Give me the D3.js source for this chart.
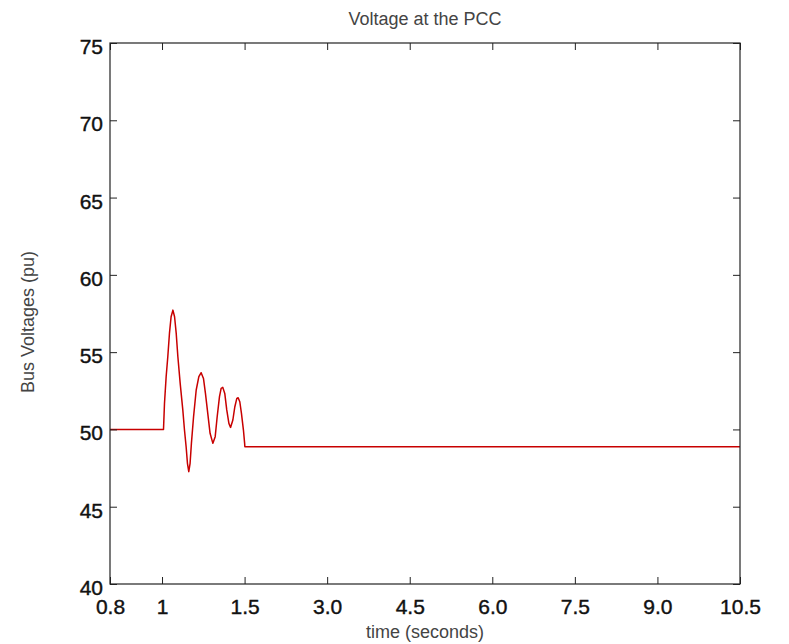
<!DOCTYPE html>
<html>
<head>
<meta charset="utf-8">
<script src="https://cdn.jsdelivr.net/npm/d3@7.9.0/dist/d3.min.js"></script>
<style>
  html, body { margin: 0; padding: 0; background: #fff; }
  svg { display: block; }
  .tick-label { font-family: "Liberation Sans", Arial, sans-serif; font-size: 21px; fill: #111; stroke: #111; stroke-width: 0.4px; }
  .label { font-family: "Liberation Sans", Arial, sans-serif; font-size: 18px; fill: #444; }
</style>
</head>
<body>
<svg id="chart" width="789" height="644"></svg>
<script>
// tick labels on the time axis (non-uniform spacing, as in the original)
const xTicks = [0.8, 1, 1.5, 3.0, 4.5, 6.0, 7.5, 9.0, 10.5];
const xTickLabels = ['0.8', '1', '1.5', '3.0', '4.5', '6.0', '7.5', '9.0', '10.5'];
// relative tick spacing along the axis
const xTickSlots = [0, 0.63, 1.63, 2.63, 3.63, 4.63, 5.63, 6.63, 7.63];
const yTicks = [40, 45, 50, 55, 60, 65, 70, 75];

// PCC voltage trace (seconds, pu)
const time = [0.8, 1.0, 1.009, 1.015, 1.025, 1.035, 1.045, 1.055, 1.066, 1.076, 1.086, 1.096,
  1.110, 1.126, 1.136, 1.146, 1.154, 1.162, 1.170, 1.178, 1.191, 1.207, 1.223, 1.237,
  1.251, 1.263, 1.277, 1.291, 1.308, 1.322, 1.334, 1.348, 1.358, 1.368, 1.380, 1.392,
  1.405, 1.415, 1.429, 1.441, 1.453, 1.461, 1.471, 1.481, 1.493, 1.501, 1.505, 10.5];
const voltage = [50.0, 50.0, 50.0, 51.69, 53.41, 54.70, 56.21, 57.29, 57.72, 57.29, 56.21, 54.70,
  52.98, 51.25, 49.96, 48.88, 47.81, 47.27, 47.81, 49.10, 50.82, 52.55, 53.41, 53.67,
  53.30, 52.33, 51.04, 49.75, 49.10, 49.53, 50.82, 52.12, 52.66, 52.72, 52.33, 51.26,
  50.39, 50.13, 50.61, 51.47, 52.01, 52.05, 51.79, 51.04, 49.96, 49.10, 48.88, 48.88];

const margin = { top: 43, right: 49, bottom: 60, left: 110 };
const width = 789 - margin.left - margin.right;
const height = 644 - margin.top - margin.bottom;

const svg = d3.select('#chart');
const g = svg.append('g').attr('transform', `translate(${margin.left},${margin.top})`);

// piecewise linear x scale so ticks land where the original put them
const slotScale = d3.scaleLinear().domain([0, 7.63]).range([0, width]);
const x = d3.scaleLinear()
  .domain(xTicks)
  .range(xTickSlots.map(s => slotScale(s)));

const y = d3.scaleLinear().domain([40, 75]).range([height, 0]);

// line
const data = time.map((t, i) => ({ t, v: voltage[i] }));
const line = d3.line().x(d => x(d.t)).y(d => y(d.v));
g.append('path')
  .datum(data)
  .attr('fill', 'none')
  .attr('stroke', '#c80000')
  .attr('stroke-width', 1.5)
  .attr('stroke-linejoin', 'round')
  .attr('d', line);

// axes (ticks pointing inward, MATLAB style)
const tickLen = 7;
const xAxis = d3.axisBottom(x).tickValues(xTicks).tickSize(-tickLen).tickPadding(15)
  .tickFormat((d, i) => xTickLabels[i]);
const xAxisTop = d3.axisTop(x).tickValues(xTicks).tickSize(-tickLen).tickFormat('');
const yAxis = d3.axisLeft(y).tickValues(yTicks).tickSize(-tickLen).tickPadding(7);
const yAxisRight = d3.axisRight(y).tickValues(yTicks).tickSize(-tickLen).tickFormat('');

function style(sel) {
  sel.select('.domain').remove();
  sel.selectAll('.tick line').attr('stroke', '#222').attr('stroke-width', 1);
  sel.selectAll('.tick text').attr('class', 'tick-label').attr('font-size', null).attr('font-family', null);
}

g.append('g').attr('transform', `translate(0,${height})`).call(xAxis).call(style);
g.append('g').call(xAxisTop).call(style);
g.append('g').call(yAxis).call(style)
  .selectAll('.tick text').attr('dy', '0.5em');
g.append('g').attr('transform', `translate(${width},0)`).call(yAxisRight).call(style);

// box
g.append('rect')
  .attr('width', width)
  .attr('height', height)
  .attr('fill', 'none')
  .attr('stroke', '#222')
  .attr('stroke-width', 1.2);

// titles
svg.append('text')
  .attr('class', 'label')
  .attr('x', margin.left + width / 2)
  .attr('y', 25)
  .attr('text-anchor', 'middle')
  .text('Voltage at the PCC');

svg.append('text')
  .attr('class', 'label')
  .attr('x', margin.left + width / 2)
  .attr('y', 638)
  .attr('text-anchor', 'middle')
  .text('time (seconds)');

svg.append('text')
  .attr('class', 'label')
  .attr('transform', `translate(34,322) rotate(-90)`)
  .attr('text-anchor', 'middle')
  .text('Bus Voltages (pu)');
</script>
</body>
</html>
